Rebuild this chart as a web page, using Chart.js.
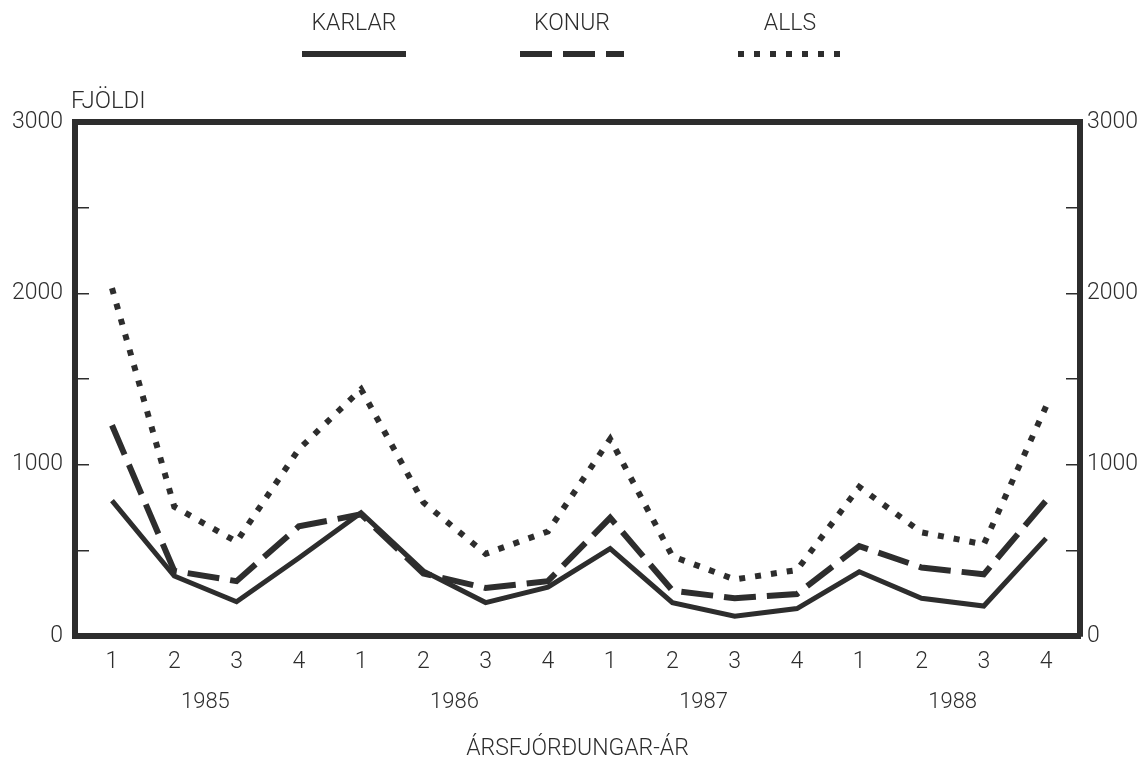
<!DOCTYPE html>
<html>
<head>
<meta charset="utf-8">
<script src="https://cdn.jsdelivr.net/npm/chart.js@4"></script>
<style>
  html, body { margin: 0; padding: 0; background: #fff; }
  #wrap { width: 1142px; height: 763px; }
</style>
</head>
<body>
<div id="wrap"><canvas id="myChart" width="1142" height="763"></canvas></div>
<script>
const quarters = ["1", "2", "3", "4", "1", "2", "3", "4", "1", "2", "3", "4", "1", "2", "3", "4"];
const years = ["1985", "1986", "1987", "1988"];
const karlar = [790, 350, 200, 455, 720, 380, 195, 285, 510, 195, 115, 160, 375, 220, 175, 570];
const konur = [1230, 380, 320, 640, 710, 365, 280, 320, 690, 265, 220, 245, 525, 400, 360, 790];
const alls = [2030, 755, 550, 1090, 1440, 780, 480, 610, 1150, 465, 330, 385, 870, 605, 535, 1340];

const ink = "#2d2d2d";
const fam = "Roboto, 'Liberation Sans', sans-serif";
const font = { family: fam, size: 23, weight: 300 };
const yearFont = { family: fam, size: 22, weight: 300 };
const xMin = -0.594, xMax = 15.545;

const pts = (arr) => arr.map((v, i) => ({ x: i, y: v }));

// legend sits above the plot: name on top, line sample under it
const legendX = [354, 572, 790];
const topLegend = {
  id: "topLegend",
  afterDraw(chart) {
    const c = chart.ctx;
    c.save();
    c.fillStyle = ink;
    c.font = "300 23px " + fam;
    c.textAlign = "center";
    c.textBaseline = "middle";
    chart.data.datasets.forEach((ds, i) => {
      const cx = legendX[i];
      c.fillText(ds.label, cx, 24);
      c.strokeStyle = ds.borderColor;
      c.lineWidth = 6;
      c.setLineDash(ds.borderDash || []);
      c.beginPath();
      c.moveTo(cx - 52, 54);
      c.lineTo(cx + 52, 54);
      c.stroke();
    });
    c.setLineDash([]);
    c.font = "300 24px " + fam;
    c.textAlign = "left";
    c.fillText("FJÖLDI", 71, 102);
    c.restore();
  },
};

const ctx = document.getElementById("myChart").getContext("2d");

const myChart = new Chart(ctx, {
  type: "line",
  data: {
    datasets: [
      { label: "KARLAR", data: pts(karlar), borderColor: ink, borderWidth: 5, pointRadius: 0 },
      { label: "KONUR", data: pts(konur), borderColor: ink, borderWidth: 6, borderDash: [32, 11], pointRadius: 0 },
      { label: "ALLS", data: pts(alls), borderColor: ink, borderWidth: 6, borderDash: [6, 10], pointRadius: 0 },
    ],
  },
  options: {
    responsive: false,
    animation: false,
    layout: { padding: 0 },
    plugins: { legend: { display: false }, tooltip: { enabled: false } },
    scales: {
      x: {
        type: "linear", position: "bottom", min: xMin, max: xMax,
        afterBuildTicks: (s) => { s.ticks = quarters.map((q, i) => ({ value: i })); },
        ticks: { callback: (v) => quarters[v], color: ink, font: font, padding: 12, autoSkip: false, maxRotation: 0 },
        grid: { display: false, drawTicks: false },
        border: { color: ink, width: 6 },
        afterFit: (s) => { s.height = 40; },
      },
      xYear: {
        type: "linear", position: "bottom", min: xMin, max: xMax,
        afterBuildTicks: (s) => { s.ticks = years.map((y, i) => ({ value: i * 4 + 1.5 })); },
        ticks: { callback: (v) => years[(v - 1.5) / 4], color: ink, font: yearFont, padding: 13, autoSkip: false, maxRotation: 0 },
        grid: { display: false, drawTicks: false },
        border: { display: false },
        title: { display: true, text: "ÁRSFJÓRÐUNGAR-ÁR", color: ink, font: font, padding: { top: 4, bottom: 0 } },
        afterFit: (s) => { s.height = 87; },
      },
      xTop: {
        type: "linear", position: "top", min: xMin, max: xMax,
        ticks: { display: false },
        grid: { display: false, drawTicks: false },
        border: { color: ink, width: 6 },
        afterFit: (s) => { s.height = 122; },
      },
      y: {
        position: "left", min: 0, max: 3000,
        ticks: { stepSize: 500, callback: (v) => (v % 1000 === 0 ? v : ""), color: ink, font: font, padding: 26 },
        grid: { drawOnChartArea: false, tickLength: -14, color: ink, lineWidth: 1.5 },
        border: { color: ink, width: 6 },
        afterFit: (s) => { s.width = 75; },
      },
      yRight: {
        position: "right", min: 0, max: 3000,
        ticks: { stepSize: 500, callback: (v) => (v % 1000 === 0 ? v : ""), color: ink, font: font, padding: 21 },
        grid: { drawOnChartArea: false, tickLength: -14, color: ink, lineWidth: 1.5 },
        border: { color: ink, width: 6 },
        afterFit: (s) => { s.width = 62; },
      },
    },
  },
  plugins: [topLegend],
});
</script>
</body>
</html>
